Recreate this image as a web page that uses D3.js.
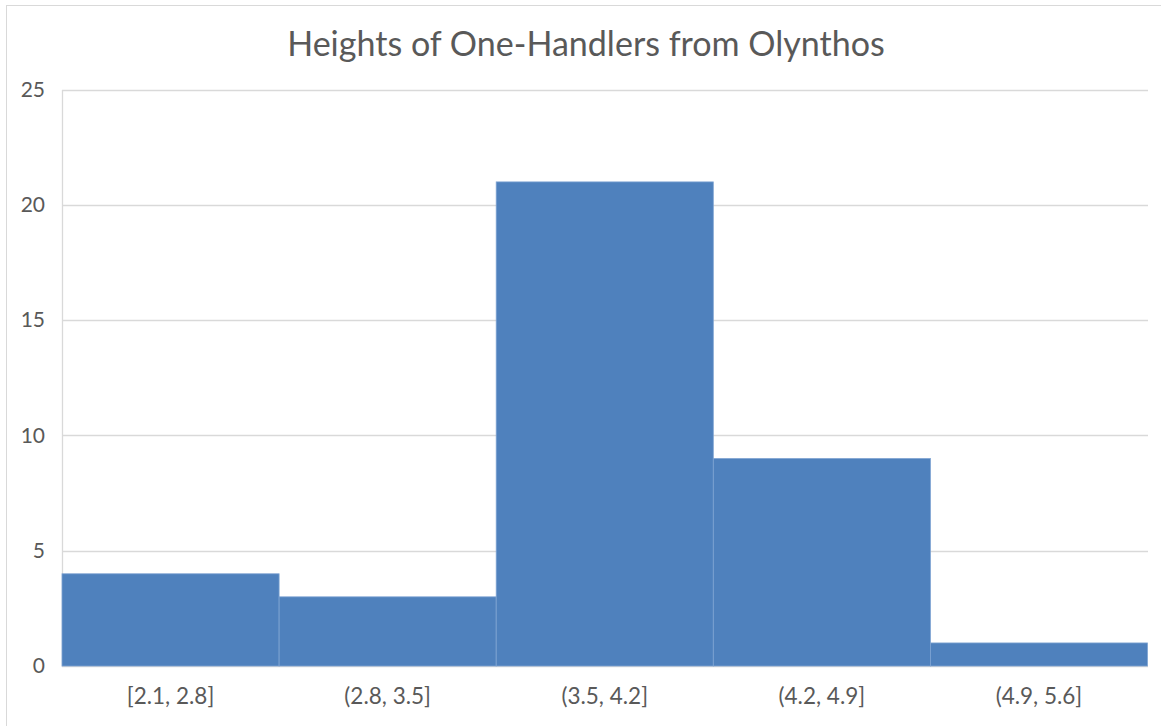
<!DOCTYPE html>
<html>
<head>
<meta charset="utf-8">
<script src="https://cdn.jsdelivr.net/npm/d3@7"></script>
<style>
html,body{margin:0;padding:0;background:#fff;}
svg{display:block;}
</style>
</head>
<body>
<svg id="chart" width="1161" height="726"></svg>
<script>
const categories = ["[2.1, 2.8]", "(2.8, 3.5]", "(3.5, 4.2]", "(4.2, 4.9]", "(4.9, 5.6]"];
const counts = [4, 3, 21, 9, 1];
const yTicks = [0, 5, 10, 15, 20, 25];
const titleText = "Heights of One-Handlers from Olynthos";

(function () {
const svg = d3.select("#chart");
const font = "Lato, 'Open Sans', sans-serif";
const textColor = "#595959";

// outer chart border
svg.append("rect").attr("x", 6.5).attr("y", 5.5).attr("width", 1160).attr("height", 730)
  .attr("fill", "none").attr("stroke", "#d9d9d9").attr("stroke-width", 1);

const pLeft = 62, pRight = 1147.5, pTop = 89.7, pBottom = 666;
const x = d3.scaleBand().domain(categories).range([pLeft, pRight]).padding(0);
const y = d3.scaleLinear().domain([0, 25]).range([pBottom, pTop]);

// gridlines
svg.append("g").selectAll("line").data(yTicks).join("line")
  .attr("x1", pLeft).attr("x2", 1148)
  .attr("y1", d => Math.round(y(d)) + 0.5).attr("y2", d => Math.round(y(d)) + 0.5)
  .attr("stroke", "#d9d9d9").attr("stroke-width", 1.3);

// left axis line
svg.append("line").attr("x1", pLeft + 0.5).attr("x2", pLeft + 0.5)
  .attr("y1", Math.round(pTop)).attr("y2", pBottom + 1)
  .attr("stroke", "#d9d9d9").attr("stroke-width", 1.3);

// bars
svg.append("g").selectAll("rect").data(counts).join("rect")
  .attr("x", (d, i) => x(categories[i]))
  .attr("y", d => y(d))
  .attr("width", x.bandwidth())
  .attr("height", d => pBottom - y(d))
  .attr("fill", "#4f81bd")
  .attr("stroke", "#7ea3d2").attr("stroke-width", 0.8);

// y tick labels
const yAxis = d3.axisLeft(y).tickValues(yTicks).tickSize(0).tickPadding(0);
const ya = svg.append("g").attr("transform", `translate(45,0)`).call(yAxis);
ya.select(".domain").remove();
ya.selectAll("text").attr("font-family", font).attr("font-size", 21).attr("fill", textColor);

// x tick labels
const xAxis = d3.axisBottom(x).tickSize(0).tickPadding(0);
const xa = svg.append("g").attr("transform", `translate(0,${pBottom + 22})`).call(xAxis);
xa.select(".domain").remove();
xa.selectAll("text").attr("font-family", font).attr("font-size", 22.5).attr("fill", textColor);

// title
const t = svg.append("text").attr("x", 586).attr("y", 56).attr("text-anchor", "middle")
  .attr("font-family", font).attr("font-size", 32).attr("fill", textColor).text(titleText);
const w = t.node().getComputedTextLength();
t.attr("font-size", 32 * 598 / w);
})();
</script>
</body>
</html>
